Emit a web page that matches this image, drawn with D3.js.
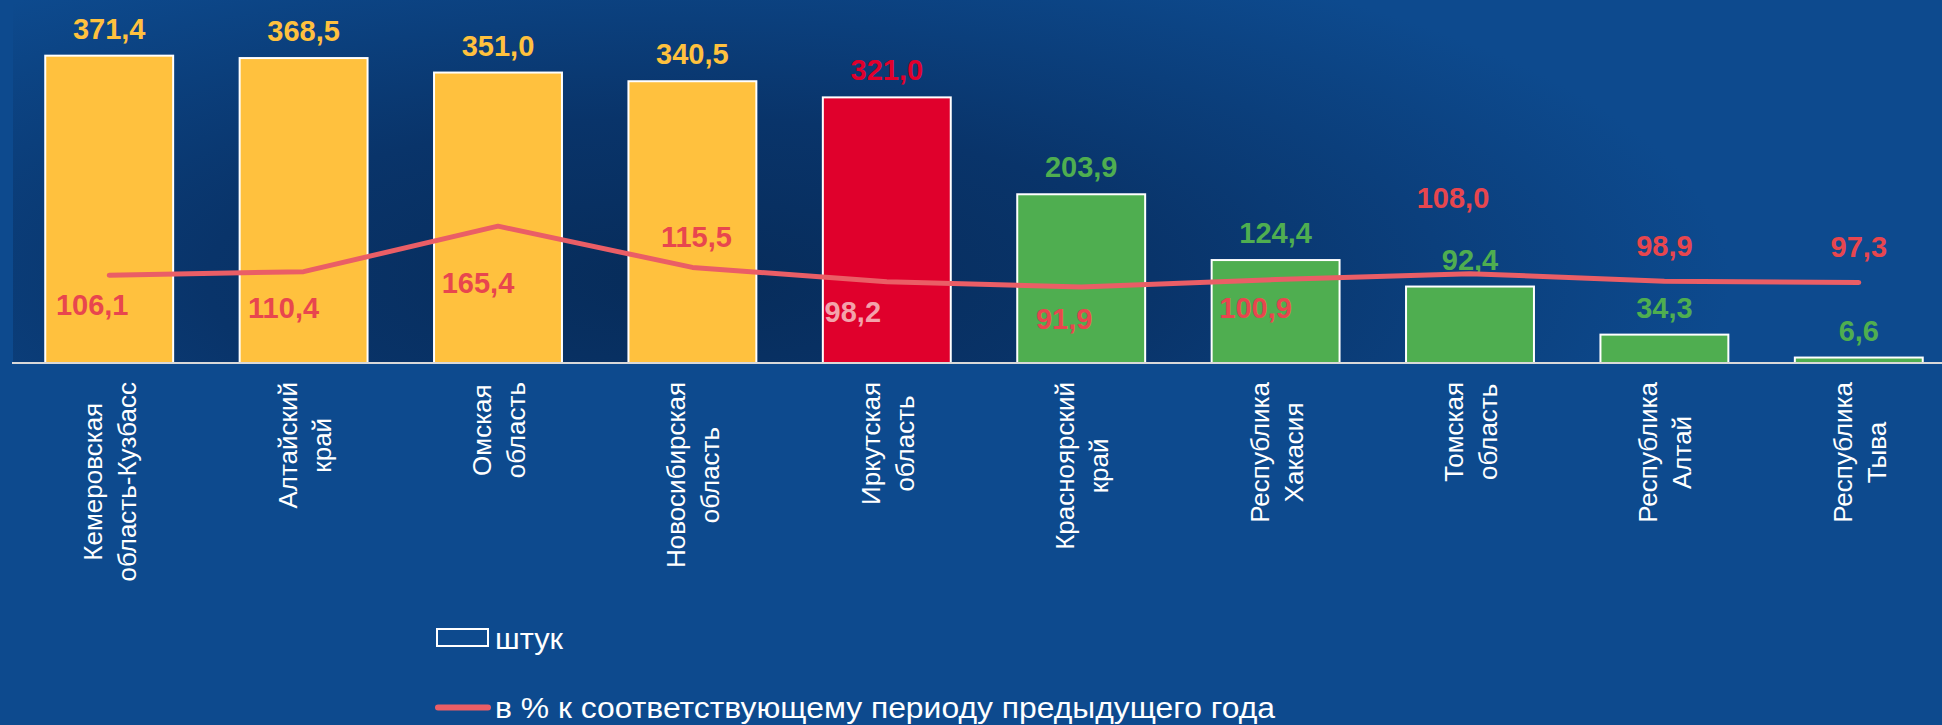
<!DOCTYPE html>
<html>
<head>
<meta charset="utf-8">
<script src="https://cdn.jsdelivr.net/npm/d3@7"></script>
<style>
  html, body { margin: 0; padding: 0; background: #0D4A8E; }
  svg { display: block; }
</style>
</head>
<body>
<svg id="chart" width="1942" height="725"></svg>
<script>
// ---- data ----
const categories = [
  ["Кемеровская", "область-Кузбасс"],
  ["Алтайский", "край"],
  ["Омская", "область"],
  ["Новосибирская", "область"],
  ["Иркутская", "область"],
  ["Красноярский", "край"],
  ["Республика", "Хакасия"],
  ["Томская", "область"],
  ["Республика", "Алтай"],
  ["Республика", "Тыва"]
];
const units = [371.4, 368.5, 351.0, 340.5, 321.0, 203.9, 124.4, 92.4, 34.3, 6.6];
const percentPrevYear = [106.1, 110.4, 165.4, 115.5, 98.2, 91.9, 100.9, 108.0, 98.9, 97.3];
const groups = ["high", "high", "high", "high", "mid", "low", "low", "low", "low", "low"];
const seriesNames = ["штук", "в % к соответствующему периоду предыдущего года"];

// ---- style / layout (not data) ----
const groupColors = { high: "#FFC13E", mid: "#E0002C", low: "#4FAE50" };
const lineColor = "#EA5E66";
const lineLabelColor = "#E8464E";
const lineLabelOnBarColor = "#F3A3AB";
// manual label offsets for the % labels (dx from band centre, dy from point)
const pctLabelOffsets = [[-17, 40], [-20, 46], [-20, 67], [4, -20], [-34, 40],
                         [-17, 42], [-20, 38], [-17, -66], [0, -25], [0, -25]];

const W = 1942, H = 725;
const axisY = 363;
const svg = d3.select("#chart");
const fmt = v => d3.format(".1f")(v).replace(".", ",");

// background
const defs = svg.append("defs");
const rg = defs.append("radialGradient")
  .attr("id", "bg").attr("gradientUnits", "userSpaceOnUse")
  .attr("cx", 0).attr("cy", 0).attr("r", 1)
  .attr("gradientTransform", "translate(680,280) scale(1050,360)");
rg.append("stop").attr("offset", "0%").attr("stop-color", "#072C5A");
rg.append("stop").attr("offset", "45%").attr("stop-color", "#09346A");
rg.append("stop").attr("offset", "100%").attr("stop-color", "#0D4A8E");

svg.append("rect").attr("width", W).attr("height", H).attr("fill", "#0D4A8E");
svg.append("rect").attr("x", 13).attr("y", 0).attr("width", W - 13).attr("height", axisY)
  .attr("fill", "url(#bg)");

// scales
const x = d3.scaleBand()
  .domain(d3.range(categories.length))
  .range([12, 1956])
  .paddingInner(0.342)
  .paddingOuter(0.171);
const y = d3.scaleLinear().domain([0, 400]).range([axisY, axisY - 400 * 0.8275]);

// bars
svg.append("g").selectAll("rect")
  .data(units)
  .join("rect")
  .attr("x", (d, i) => x(i))
  .attr("y", d => y(d))
  .attr("width", x.bandwidth())
  .attr("height", d => y(0) - y(d))
  .attr("fill", (d, i) => groupColors[groups[i]])
  .attr("stroke", "#FFFFFF")
  .attr("stroke-width", 2);

// axis line
const xAxis = d3.axisBottom(x).tickSize(0).tickFormat("");
const gAxis = svg.append("g").attr("transform", `translate(0,${axisY})`).call(xAxis);
gAxis.select(".domain").attr("stroke", "#D9D9D9").attr("stroke-width", 2)
  .attr("d", `M12,0H${W}`);

// bar value labels
svg.append("g").selectAll("text")
  .data(units)
  .join("text")
  .attr("x", (d, i) => x(i) + x.bandwidth() / 2)
  .attr("y", d => y(d) - 17)
  .attr("text-anchor", "middle")
  .attr("font-family", "Arial, 'Liberation Sans', sans-serif")
  .attr("font-weight", "bold")
  .attr("font-size", 29)
  .attr("fill", (d, i) => groupColors[groups[i]])
  .text(d => fmt(d));

// line
const cx = i => x(i) + x.bandwidth() / 2;
const line = d3.line().x((d, i) => cx(i)).y(d => y(d));
svg.append("path")
  .datum(percentPrevYear)
  .attr("d", line)
  .attr("fill", "none")
  .attr("stroke", lineColor)
  .attr("stroke-width", 5)
  .attr("stroke-linejoin", "round")
  .attr("stroke-linecap", "round");

// % labels
svg.append("g").selectAll("text")
  .data(percentPrevYear)
  .join("text")
  .attr("x", (d, i) => cx(i) + pctLabelOffsets[i][0])
  .attr("y", (d, i) => y(d) + pctLabelOffsets[i][1])
  .attr("text-anchor", "middle")
  .attr("font-family", "Arial, 'Liberation Sans', sans-serif")
  .attr("font-weight", "bold")
  .attr("font-size", 29)
  .attr("fill", (d, i) => groups[i] === "mid" ? lineLabelOnBarColor : lineLabelColor)
  .text(d => fmt(d));

// category labels (rotated)
const catG = svg.append("g");
categories.forEach((lines, i) => {
  const g = catG.append("g");
  const texts = lines.map((t, k) => g.append("text")
    .attr("x", 0).attr("y", k * 34)
    .attr("text-anchor", "middle")
    .attr("font-family", "Arial, 'Liberation Sans', sans-serif")
    .attr("font-size", 26)
    .attr("fill", "#FFFFFF")
    .text(t));
  const maxLen = d3.max(texts, t => t.node().getComputedTextLength());
  g.attr("transform", `translate(${cx(i) - 7},${382 + maxLen / 2}) rotate(-90)`);
});

// legend
const lg = svg.append("g");
lg.append("rect").attr("x", 437).attr("y", 629).attr("width", 51).attr("height", 17)
  .attr("fill", "none").attr("stroke", "#FFFFFF").attr("stroke-width", 2);
lg.append("text").attr("x", 495).attr("y", 649)
  .attr("font-family", "Arial, 'Liberation Sans', sans-serif")
  .attr("font-size", 30).attr("fill", "#FFFFFF")
  .attr("textLength", 68).attr("lengthAdjust", "spacingAndGlyphs")
  .text(seriesNames[0]);
lg.append("line").attr("x1", 438).attr("x2", 488).attr("y1", 707.5).attr("y2", 707.5)
  .attr("stroke", lineColor).attr("stroke-width", 6).attr("stroke-linecap", "round");
lg.append("text").attr("x", 495).attr("y", 718)
  .attr("font-family", "Arial, 'Liberation Sans', sans-serif")
  .attr("font-size", 30).attr("fill", "#FFFFFF")
  .attr("textLength", 780).attr("lengthAdjust", "spacingAndGlyphs")
  .text(seriesNames[1]);
</script>
</body>
</html>
